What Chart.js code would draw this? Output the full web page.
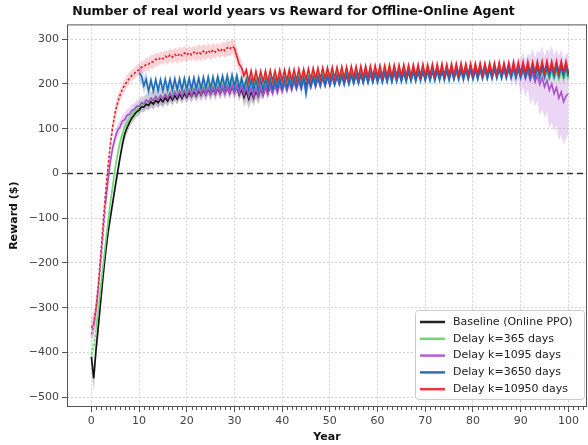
<!DOCTYPE html>
<html>
<head>
<meta charset="utf-8">
<script src="https://cdn.jsdelivr.net/npm/chart.js"></script>
<style>
  html, body { margin: 0; padding: 0; background: #fff; }
  canvas { display: block; }
</style>
</head>
<body>
<canvas id="rewardChart" width="588" height="445"></canvas>
<script>
// samples every half year
const STEP = 0.5;

const xTicks = [0, 10, 20, 30, 40, 50, 60, 70, 80, 90, 100];
const yTicks = [-500, -400, -300, -200, -100, 0, 100, 200, 300];

const seriesLabels = [
  'Baseline (Online PPO)',
  'Delay k=365 days',
  'Delay k=1095 days',
  'Delay k=3650 days',
  'Delay k=10950 days'
];

// year at which each series starts / offline phase ends
const startYear = [0, 0, 0, 10, 0];
const offlineEnd = [0, 1, 3, 10, 30];

const blackReward = [
  -410,-458,-392,-338,-282,-226,-176,-133,-98,-64,
  -30,2,34,64,88,102,114,124,131,138,
  141,149,148,155,152,160,155,163,158,166,
  160,169,162,172,164,174,166,177,168,179,
  170,181,172,183,173,185,175,186,176,188,
  177,189,178,190,179,191,180,192,180,193,
  181,193,176,188,170,184,166,183,168,184,
  172,188,176,192,180,196,183,199,186,202,
  188,204,190,206,192,208,194,209,195,211,
  197,212,198,213,199,215,200,216,201,217,
  202,218,203,219,204,220,205,221,205,222,
  206,223,207,223,207,224,208,225,208,225,
  209,226,209,226,210,227,210,227,211,228,
  211,228,211,229,212,229,212,229,213,230,
  213,230,213,231,214,231,214,231,214,232,
  215,232,215,232,215,233,216,233,216,233,
  216,234,217,234,217,234,217,235,218,235,
  218,235,218,236,219,236,219,236,219,237,
  219,237,220,237,220,237,220,238,220,238,
  221,238,221,238,221,239,221,239,222,239,
  222
];

const greenReward = [
  -405,-388,-348,-302,-252,-203,-155,-110,-66,-26,
  12,42,68,88,104,114,124,130,138,142,
  149,155,156,162,161,167,164,171,167,174,
  169,177,172,180,174,183,176,185,178,187,
  180,189,182,191,183,193,185,195,186,197,
  188,199,190,203,192,207,194,213,196,216,
  197,214,196,212,195,211,195,212,196,213,
  197,214,198,215,199,216,200,217,201,218,
  202,219,203,220,204,221,204,222,205,222,
  206,223,206,224,207,224,207,225,208,225,
  208,226,209,226,209,227,210,227,210,228,
  211,228,211,229,212,229,212,230,213,230,
  213,231,213,231,214,232,214,232,215,232,
  215,233,215,233,216,234,216,234,216,234,
  217,235,217,235,217,235,218,236,218,236,
  218,236,218,237,219,237,219,237,219,238,
  220,238,220,238,220,239,220,239,221,239,
  221,239,221,238,220,237,219,236,218,235,
  217,234,216,232,215,231,214,230,213,229,
  212,228,211,228,211,227,210,227,210,226,
  210
];

const purpleReward = [
  -360,-342,-305,-255,-195,-130,-65,-15,28,58,
  80,96,104,117,120,130,132,141,143,150,
  150,158,155,164,159,168,162,172,164,174,
  166,177,168,180,169,182,171,184,172,185,
  173,187,174,188,175,189,176,190,176,191,
  177,192,177,193,178,194,178,195,179,196,
  179,196,178,194,176,192,172,190,171,190,
  172,191,174,193,176,195,178,197,180,199,
  182,201,184,203,186,205,188,206,189,208,
  191,209,192,211,194,212,195,213,196,214,
  197,215,198,216,199,217,200,218,201,219,
  202,220,203,221,204,222,205,223,206,224,
  206,224,207,225,207,226,208,226,208,227,
  209,227,209,228,210,228,210,229,211,229,
  211,230,212,230,212,231,213,231,213,232,
  214,232,214,233,215,233,215,234,216,234,
  216,235,217,235,217,236,218,236,218,237,
  219,237,219,237,220,237,219,236,218,235,
  215,232,212,228,208,224,204,219,199,214,
  193,208,186,200,178,192,168,182,160,173,
  178
];

// starts at year 10
const blueReward = [
  224,218,196,210,184,208,184,209,185,209,
  185,210,186,210,186,211,187,211,187,212,
  188,212,188,213,189,213,189,214,190,215,
  190,215,191,216,192,217,192,218,193,219,
  193,218,190,212,188,210,186,209,186,208,
  186,209,187,210,188,210,188,211,189,212,
  190,212,190,213,191,214,192,214,192,215,
  178,214,194,216,195,217,196,217,197,218,
  197,219,198,219,199,220,199,221,200,221,
  201,222,201,222,202,223,202,223,203,224,
  203,224,203,225,204,225,204,226,205,226,
  205,226,205,227,206,227,206,227,207,228,
  207,228,207,228,207,229,208,229,208,229,
  208,230,209,230,209,230,209,231,210,231,
  210,231,210,232,211,232,211,232,211,233,
  212,233,212,233,212,234,213,234,213,234,
  213,235,214,235,214,235,214,236,215,236,
  215,236,215,237,216,237,216,237,216,238,
  216
];

const redReward = [
  -345,-336,-300,-246,-178,-108,-42,14,66,106,
  136,158,174,188,197,206,212,219,223,229,
  231,237,238,244,244,250,249,255,253,259,
  256,262,258,265,260,266,261,268,263,269,
  264,270,265,271,266,272,267,273,268,275,
  269,276,271,277,272,279,274,281,277,284,
  280,262,244,236,218,231,205,229,203,228,
  204,228,205,229,204,230,206,229,205,231,
  207,231,207,232,208,232,208,233,209,233,
  209,234,210,235,211,235,211,236,212,236,
  212,237,213,237,213,238,213,238,214,239,
  214,239,215,240,215,240,215,240,216,241,
  216,241,216,241,217,242,216,242,217,242,
  217,243,218,242,217,243,218,243,218,244,
  218,243,219,244,218,244,219,245,219,244,
  220,245,219,245,220,246,220,245,221,246,
  220,246,221,247,221,246,222,247,221,247,
  222,248,222,247,223,248,222,249,223,248,
  224,249,223,250,224,249,225,250,224,250,
  225,251,225,250,226,251,225,251,226,250,
  226
];

// spread of the shaded band, one value per 2-year block (years 0,2,...,100)
const blackStd = [
  28,16,14,13,12,12,12,12,12,12, 12,12,12,12,12,13,22,18,10,8,
  7,7,7,7,7,7,7,7,7,7, 7,7,7,7,7,7,7,7,7,7,
  7,7,7,7,7,7,7,7,7,7, 7
];
const greenStd = [
  20,16,14,14,13,14,16,18,16,15, 14,13,14,16,15,12,10,9,8,8,
  8,8,8,8,8,8,8,8,8,8, 8,8,8,8,8,8,8,8,8,8,
  8,8,8,8,9,9,10,10,10,10, 10
];
const purpleStd = [
  22,18,15,14,14,16,18,20,18,16, 18,17,16,15,14,16,18,14,12,10,
  9,9,8,8,8,8,8,8,8,8, 8,8,8,8,8,8,8,8,8,8,
  8,8,9,12,25,40,55,70,85,95, 90
];
const blueStd = [
  0,0,0,0,0,18,13,12,12,12, 12,13,12,12,12,14,12,10,10,10,
  10,11,18,10,9,8,8,8,8,8, 8,8,8,8,8,8,8,8,8,8,
  8,8,8,8,9,9,10,10,10,10, 10
];
const redStd = [
  25,20,16,14,13,14,15,14,15,16, 15,17,16,15,17,18,10,9,8,8,
  9,8,8,9,8,8,8,9,8,8, 8,9,8,8,8,9,8,8,9,8,
  8,8,9,8,8,9,8,8,9,8, 8
];

const lineColors = ['#111111', '#72d872', '#a852c9', '#1f6cb8', '#e3232b'];
const bandColors = [
  'rgba(70,70,70,0.28)',
  'rgba(120,220,120,0.30)',
  'rgba(190,120,225,0.30)',
  'rgba(60,130,205,0.30)',
  'rgba(240,100,115,0.28)'
];
const legendColors = ['#222222', '#6fd86f', '#b260d0', '#2a70b6', '#e8383e'];

const allReward = [blackReward, greenReward, purpleReward, blueReward, redReward];
const allStd = [blackStd, greenStd, purpleStd, blueStd, redStd];

function toPoints(start, vals, std, sign) {
  return vals.map((v, i) => {
    const x = start + i * STEP;
    const s = std ? sign * std[Math.floor(x / 2)] : 0;
    return { x: x, y: v + s };
  });
}

const datasets = [];
// bands first (drawn underneath)
allReward.forEach((vals, k) => {
  const base = { pointRadius: 0, borderWidth: 0, tension: 0, order: 30 - k };
  datasets.push(Object.assign({}, base, {
    data: toPoints(startYear[k], vals, allStd[k], 1), fill: false
  }));
  datasets.push(Object.assign({}, base, {
    data: toPoints(startYear[k], vals, allStd[k], -1), fill: '-1',
    backgroundColor: bandColors[k]
  }));
});
allReward.forEach((vals, k) => {
  datasets.push({
    label: seriesLabels[k],
    data: toPoints(startYear[k], vals, null, 0),
    borderColor: lineColors[k],
    borderWidth: 1.6,
    pointRadius: 0,
    tension: 0,
    fill: false,
    order: 15 - k,
    segment: {
      borderDash: ctx => ctx.p1.parsed.x <= offlineEnd[k] ? [2.5, 2] : undefined
    }
  });
});

const framePlugin = {
  id: 'frame',
  beforeDatasetsDraw(chart) {
    const { ctx, chartArea: a, scales: { y } } = chart;
    const y0 = Math.round(y.getPixelForValue(0)) + 0.5;
    ctx.save();
    ctx.strokeStyle = '#333';
    ctx.lineWidth = 1.5;
    ctx.setLineDash([6, 4]);
    ctx.beginPath();
    ctx.moveTo(a.left, y0);
    ctx.lineTo(a.right, y0);
    ctx.stroke();
    ctx.restore();
  },
  afterDatasetsDraw(chart) {
    const { ctx, chartArea: a, scales: { x } } = chart;
    ctx.save();
    ctx.strokeStyle = '#555';
    ctx.lineWidth = 1;
    ctx.strokeRect(a.left + 0.5, a.top + 0.5, a.right - a.left - 1, a.bottom - a.top - 1);
    // minor ticks under the x axis
    ctx.beginPath();
    for (let v = 1; v <= 103; v++) {
      if (v % 10 === 0) continue;
      const px = Math.round(x.getPixelForValue(v)) + 0.5;
      ctx.moveTo(px, a.bottom);
      ctx.lineTo(px, a.bottom + 3);
    }
    ctx.stroke();
    ctx.restore();
  },
  afterDraw(chart) {
    const { ctx, chartArea: a } = chart;
    const bx = a.right - 172, by = a.bottom - 97, bw = 169, bh = 89;
    ctx.save();
    ctx.fillStyle = 'rgba(255,255,255,0.88)';
    ctx.strokeStyle = '#cccccc';
    ctx.lineWidth = 1;
    ctx.beginPath();
    ctx.roundRect(bx + 0.5, by + 0.5, bw, bh, 3);
    ctx.fill();
    ctx.stroke();
    ctx.font = '11px "DejaVu Sans"';
    ctx.textBaseline = 'middle';
    seriesLabels.forEach((label, i) => {
      const ry = by + 12 + i * 16.8;
      ctx.strokeStyle = legendColors[i];
      ctx.lineWidth = 2.5;
      ctx.beginPath();
      ctx.moveTo(bx + 5, ry);
      ctx.lineTo(bx + 30, ry);
      ctx.stroke();
      ctx.fillStyle = '#222';
      ctx.fillText(label, bx + 38, ry);
    });
    ctx.restore();
  }
};

const tickFont = { family: 'DejaVu Sans', size: 11 };
const titleFont = { family: 'DejaVu Sans', size: 11, weight: 'bold' };

new Chart(document.getElementById('rewardChart').getContext('2d'), {
  type: 'line',
  data: { datasets: datasets },
  options: {
    responsive: false,
    animation: false,
    devicePixelRatio: 1,
    layout: { padding: { left: 0, right: 1, top: 0, bottom: 0 } },
    plugins: {
      legend: { display: false },
      tooltip: { enabled: false },
      title: {
        display: true,
        text: 'Number of real world years vs Reward for Offline-Online Agent',
        color: '#111',
        font: { family: 'DejaVu Sans', size: 12.5, weight: 'bold', lineHeight: 1.15 },
        padding: { top: 5, bottom: 5 }
      }
    },
    scales: {
      x: {
        type: 'linear',
        min: -5.1,
        max: 103.9,
        afterBuildTicks: s => { s.ticks = xTicks.map(v => ({ value: v })); },
        afterFit: s => { s.height = 38; },
        grid: { color: '#d2d2d2', lineWidth: 1, tickLength: 5, tickColor: '#555' },
        border: { display: false, dash: [2, 2] },
        ticks: { color: '#444', font: tickFont, padding: 3, maxRotation: 0, autoSkip: false },
        title: { display: true, text: 'Year', color: '#111', font: titleFont, padding: { top: 0, bottom: 1 } }
      },
      y: {
        min: -522,
        max: 333,
        afterBuildTicks: s => { s.ticks = yTicks.map(v => ({ value: v })); },
        afterFit: s => { s.width = 67; },
        grid: { color: '#d2d2d2', lineWidth: 1, tickLength: 5, tickColor: '#555' },
        border: { display: false, dash: [2, 2] },
        ticks: {
          color: '#444', font: tickFont, padding: 3, autoSkip: false,
          callback: v => v < 0 ? '\u2212' + Math.abs(v) : String(v)
        },
        title: { display: true, text: 'Reward ($)', color: '#111', font: titleFont, padding: { top: 8, bottom: 0 } }
      }
    }
  },
  plugins: [framePlugin]
});
</script>
</body>
</html>
